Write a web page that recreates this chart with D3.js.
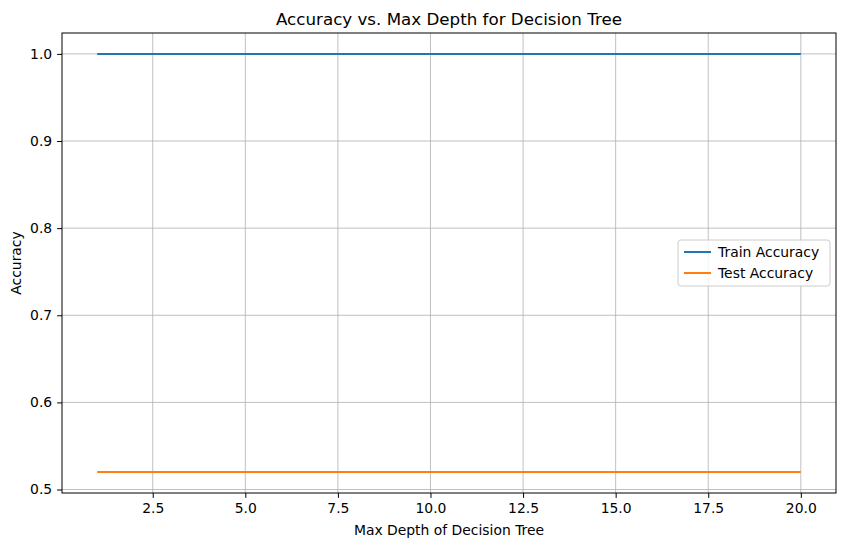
<!DOCTYPE html>
<html><head><meta charset="utf-8">
<script src="https://cdn.jsdelivr.net/npm/d3@7"></script>
<style>body{margin:0;background:#fff;font-family:"DejaVu Sans",sans-serif}</style>
</head><body><svg id="c" width="846" height="547"></svg>
<script>
const depths = d3.range(1, 21);
const trainAcc = [1,1,1,1,1,1,1,1,1,1,1,1,1,1,1,1,1,1,1,1];
const testAcc = [0.52,0.52,0.52,0.52,0.52,0.52,0.52,0.52,0.52,0.52,0.52,0.52,0.52,0.52,0.52,0.52,0.52,0.52,0.52,0.52];
const xTicks = [2.5,5,7.5,10,12.5,15,17.5,20];
const yTicks = [0.5,0.6,0.7,0.8,0.9,1.0];
const series = [{name:"Train Accuracy", vals:trainAcc, color:"#1f77b4"},{name:"Test Accuracy", vals:testAcc, color:"#ff7f0e"}];

const svg = d3.select("#c");
const L=62,R=836,T=33,B=493;
const FS=13.9;
const x = d3.scaleLinear().domain([0.05,20.95]).range([L,R]);
const y = d3.scaleLinear().domain([0.496,1.024]).range([B,T]);

const g = svg.append("g");
g.selectAll(".gx").data(xTicks).join("line").attr("x1",d=>x(d)).attr("x2",d=>x(d)).attr("y1",T).attr("y2",B).attr("stroke","#b0b0b0").attr("stroke-width",0.8);
g.selectAll(".gy").data(yTicks).join("line").attr("y1",d=>y(d)).attr("y2",d=>y(d)).attr("x1",L).attr("x2",R).attr("stroke","#b0b0b0").attr("stroke-width",0.8);

const xa = svg.append("g").attr("transform",`translate(0,${B})`).call(d3.axisBottom(x).tickValues(xTicks).tickFormat(d3.format(".1f")).tickSizeOuter(0).tickSize(4.9).tickPadding(4.9));
const ya = svg.append("g").attr("transform",`translate(${L},0)`).call(d3.axisLeft(y).tickValues(yTicks).tickFormat(d3.format(".1f")).tickSizeOuter(0).tickSize(4.9).tickPadding(4.9));
[xa,ya].forEach(a=>{a.select(".domain").remove();a.selectAll("text").attr("font-size",FS).attr("font-family","DejaVu Sans").attr("fill","#000");a.selectAll("line").attr("stroke","#000");});

const line = d3.line().x((d,i)=>x(depths[i])).y(d=>y(d));
series.forEach(s=>svg.append("path").attr("d",line(s.vals)).attr("fill","none").attr("stroke",s.color).attr("stroke-width",2));

svg.append("rect").attr("x",L).attr("y",T).attr("width",R-L).attr("height",B-T).attr("fill","none").attr("stroke","#000").attr("stroke-width",1);

svg.append("text").attr("x",(L+R)/2).attr("y",T-8).attr("text-anchor","middle").attr("font-size",16.7).text("Accuracy vs. Max Depth for Decision Tree");
svg.append("text").attr("x",(L+R)/2).attr("y",535).attr("text-anchor","middle").attr("font-size",FS).text("Max Depth of Decision Tree");
svg.append("text").attr("transform",`translate(21,${(T+B)/2}) rotate(-90)`).attr("text-anchor","middle").attr("font-size",FS).text("Accuracy");

const lg = svg.append("g").attr("transform","translate(678,240)");
lg.append("rect").attr("width",152).attr("height",46).attr("rx",3).attr("fill","#fff").attr("fill-opacity",0.8).attr("stroke","#ccc");
series.forEach((s,i)=>{
  lg.append("line").attr("x1",6).attr("x2",33).attr("y1",12+i*21).attr("y2",12+i*21).attr("stroke",s.color).attr("stroke-width",2);
  lg.append("text").attr("x",40).attr("y",17+i*21).attr("font-size",FS).text(s.name);
});
</script></body></html>
